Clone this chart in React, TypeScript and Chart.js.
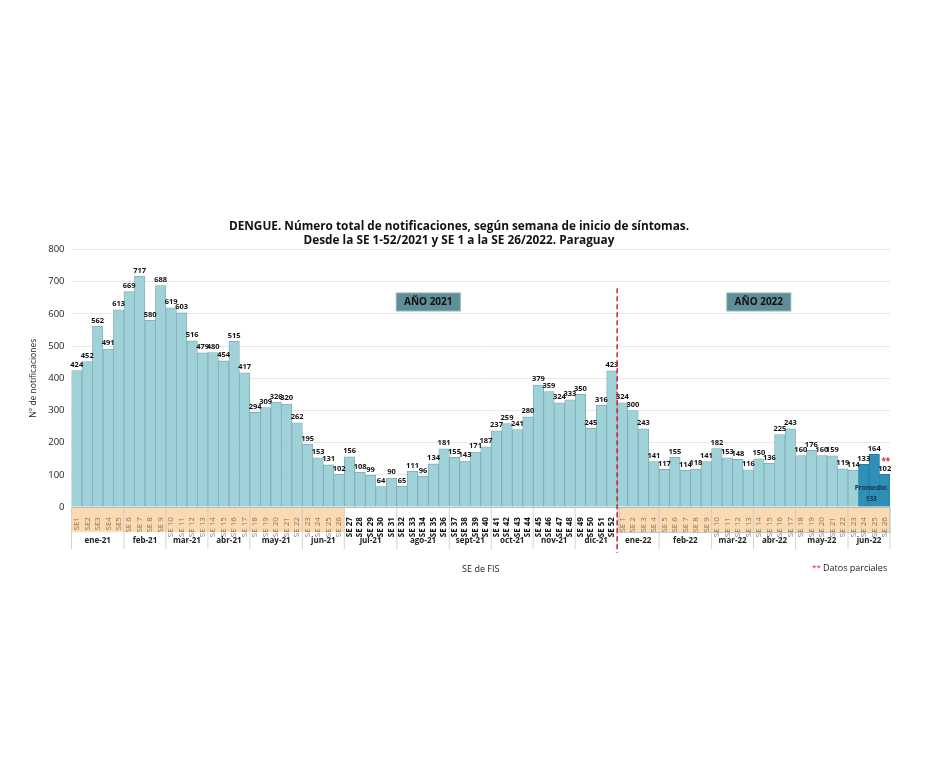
import { useEffect, useRef } from 'react';
import Chart from 'chart.js/auto';

const weekLabels = [
  'SE1', 'SE2', 'SE3', 'SE4', 'SE5', 'SE 6', 'SE 7', 'SE 8', 'SE 9', 'SE 10',
  'SE 11', 'SE 12', 'SE 13', 'SE 14', 'SE 15', 'SE 16', 'SE 17', 'SE 18', 'SE 19', 'SE 20',
  'SE 21', 'SE 22', 'SE 23', 'SE 24', 'SE 25', 'SE 26', 'SE 27', 'SE 28', 'SE 29', 'SE 30',
  'SE 31', 'SE 32', 'SE 33', 'SE 34', 'SE 35', 'SE 36', 'SE 37', 'SE 38', 'SE 39', 'SE 40',
  'SE 41', 'SE 42', 'SE 43', 'SE 44', 'SE 45', 'SE 46', 'SE 47', 'SE 48', 'SE 49', 'SE 50',
  'SE 51', 'SE 52',
  'SE 1', 'SE 2', 'SE 3', 'SE 4', 'SE 5', 'SE 6', 'SE 7', 'SE 8', 'SE 9', 'SE 10',
  'SE 11', 'SE 12', 'SE 13', 'SE 14', 'SE 15', 'SE 16', 'SE 17', 'SE 18', 'SE 19', 'SE 20',
  'SE 21', 'SE 22', 'SE 23', 'SE 24', 'SE 25', 'SE 26',
];

const values2021 = [
  424, 452, 562, 491, 613, 669, 717, 580, 688, 619,
  603, 516, 479, 480, 454, 515, 417, 294, 309, 326,
  320, 262, 195, 153, 131, 102, 156, 108, 99, 64,
  90, 65, 111, 96, 134, 181, 155, 143, 171, 187,
  237, 259, 241, 280, 379, 359, 324, 333, 350, 245,
  316, 423,
];

const values2022 = [
  324, 300, 243, 141, 117, 155, 114, 118, 141, 182,
  153, 148, 116, 150, 136, 225, 243, 160, 176, 160,
  159, 119, 114, 133, 164, 102,
];

const monthNames = [
  'ene-21', 'feb-21', 'mar-21', 'abr-21', 'may-21', 'jun-21',
  'jul-21', 'ago-21', 'sept-21', 'oct-21', 'nov-21', 'dic-21',
  'ene-22', 'feb-22', 'mar-22', 'abr-22', 'may-22', 'jun-22',
];
const monthWeeks = [5, 4, 4, 4, 5, 4, 5, 5, 4, 4, 4, 4, 4, 5, 4, 4, 5, 4];

const yTicks = [0, 100, 200, 300, 400, 500, 600, 700, 800];
const averageLast = 133;

const allValues = [...values2021, ...values2022];
const FONT = '"Open Sans", "Noto Sans", sans-serif';
const LIGHT = '#9ed1d8';
const DARK = '#2e8fb8';
const ORANGE = '#fbd9b1';

// orange band = SE 1-26 of each year
const isOrange = (i: number) => i < 26 || i >= 52;

const overlay = {
  id: 'overlay',
  beforeDraw(chart: any) {
    const { ctx, chartArea } = chart;
    const x = chart.scales.x;
    const half = (x.getPixelForValue(1) - x.getPixelForValue(0)) / 2;
    const top = chartArea.bottom;
    ctx.save();
    ctx.fillStyle = ORANGE;
    ctx.fillRect(x.getPixelForValue(0) - half, top, half * 2 * 26, 25);
    ctx.fillRect(x.getPixelForValue(52) - half, top, half * 2 * 26, 25);
    ctx.strokeStyle = '#b9c9cc';
    ctx.lineWidth = 1;
    ctx.strokeRect(x.getPixelForValue(52) - half + 2, top + 0.5, half * 2 * 26 - 2, 25);
    ctx.restore();
  },
  afterDraw(chart: any) {
    const { ctx, chartArea } = chart;
    const x = chart.scales.x;
    const y = chart.scales.y;
    const half = (x.getPixelForValue(1) - x.getPixelForValue(0)) / 2;
    const meta = chart.getDatasetMeta(0);
    ctx.save();

    // value labels
    ctx.fillStyle = '#111';
    ctx.font = `bold 7.5px ${FONT}`;
    ctx.textAlign = 'center';
    ctx.textBaseline = 'bottom';
    meta.data.forEach((bar: any, i: number) => {
      ctx.fillText(String(allValues[i]), bar.x, bar.y - 2);
    });

    // month row
    const bandTop = chartArea.bottom;
    const rowTop = bandTop + 25;
    const rowBottom = rowTop + 17;
    let start = 0;
    ctx.strokeStyle = '#c8c8c8';
    ctx.lineWidth = 0.8;
    ctx.font = `bold 8px ${FONT}`;
    ctx.textBaseline = 'middle';
    monthNames.forEach((name, m) => {
      const end = start + monthWeeks[m];
      const left = x.getPixelForValue(start) - half;
      const right = x.getPixelForValue(end - 1) + half;
      ctx.fillStyle = '#222';
      ctx.fillText(name, (left + right) / 2, rowTop + 9);
      ctx.beginPath();
      ctx.moveTo(right, bandTop);
      ctx.lineTo(right, rowBottom);
      ctx.stroke();
      start = end;
    });
    ctx.beginPath();
    ctx.moveTo(chartArea.left, bandTop);
    ctx.lineTo(chartArea.left, rowBottom);
    ctx.stroke();

    // dashed separator between years
    const sepX = (x.getPixelForValue(51) + x.getPixelForValue(52)) / 2;
    ctx.strokeStyle = '#c62828';
    ctx.lineWidth = 1.5;
    ctx.setLineDash([5, 3]);
    ctx.beginPath();
    ctx.moveTo(sepX, y.getPixelForValue(680));
    ctx.lineTo(sepX, rowBottom + 4);
    ctx.stroke();
    ctx.setLineDash([]);

    // year boxes
    const box = (label: string, cx: number) => {
      const cy = y.getPixelForValue(637);
      ctx.fillStyle = '#5e8e97';
      ctx.fillRect(cx - 32, cy - 9, 64, 18);
      ctx.strokeStyle = '#8fb3b9';
      ctx.lineWidth = 1;
      ctx.strokeRect(cx - 32, cy - 9, 64, 18);
      ctx.fillStyle = '#111';
      ctx.font = `bold 10px ${FONT}`;
      ctx.textBaseline = 'middle';
      ctx.fillText(label, cx, cy + 0.5);
    };
    box('AÑO 2021', (x.getPixelForValue(33) + x.getPixelForValue(34)) / 2);
    box('AÑO 2022', x.getPixelForValue(65));

    // average note inside last bars
    const avgX = x.getPixelForValue(76) - 3;
    ctx.fillStyle = '#10324a';
    ctx.font = `bold 6.5px ${FONT}`;
    ctx.fillText('Promedio:', avgX, y.getPixelForValue(58));
    ctx.fillText(String(averageLast), avgX, y.getPixelForValue(24));

    // partial data marks
    const last = meta.data[77];
    ctx.fillStyle = '#e02020';
    ctx.font = `bold 8px ${FONT}`;
    ctx.textBaseline = 'bottom';
    ctx.fillText('**', last.x + 1, last.y - 9);

    ctx.textAlign = 'left';
    ctx.textBaseline = 'middle';
    const noteY = rowBottom + 19;
    ctx.fillStyle = '#e02020';
    ctx.font = `8px ${FONT}`;
    ctx.fillText('**', 804, noteY);
    ctx.fillStyle = '#222';
    ctx.font = `9px ${FONT}`;
    ctx.fillText('Datos parciales', 815, noteY);

    ctx.restore();
  },
};

export default function App() {
  const canvasRef = useRef<HTMLCanvasElement | null>(null);
  const chartRef = useRef<Chart | null>(null);

  useEffect(() => {
    if (!canvasRef.current) return;
    const ctx = canvasRef.current.getContext('2d');
    if (!ctx) return;

    chartRef.current = new Chart(ctx, {
      type: 'bar',
      data: {
        labels: weekLabels,
        datasets: [
          {
            data: allValues,
            backgroundColor: allValues.map((_, i) => (i >= 75 ? DARK : LIGHT)),
            borderColor: allValues.map((_, i) => (i >= 75 ? '#277aa0' : '#7fa9b0')),
            borderWidth: 0.8,
            categoryPercentage: 1,
            barPercentage: 1,
          },
        ],
      },
      options: {
        animation: false,
        responsive: true,
        maintainAspectRatio: false,
        layout: { padding: { top: 211, left: 20, right: 31, bottom: 198 } },
        plugins: {
          legend: { display: false },
          tooltip: { enabled: false },
          title: {
            display: true,
            text: [
              'DENGUE. Número total de notificaciones, según semana de inicio de síntomas.',
              'Desde la SE 1-52/2021 y SE 1 a la SE 26/2022. Paraguay',
            ],
            color: '#111',
            font: { family: FONT, size: 11.8, weight: 'bold', lineHeight: 1.25 },
            padding: { top: 0, bottom: 1 },
          },
        },
        scales: {
          x: {
            grid: { display: false },
            border: { color: '#bbb' },
            ticks: {
              autoSkip: false,
              minRotation: 90,
              maxRotation: 90,
              padding: 2,
              color: (c: any) => (isOrange(c.index) ? '#8a7458' : '#111'),
              font: (c: any) => ({
                family: FONT,
                size: 8,
                weight: isOrange(c.index) ? 'normal' : 'bold',
              }),
            },
            title: {
              display: true,
              text: 'SE de FIS',
              color: '#222',
              font: { family: FONT, size: 9 },
              padding: { top: 25, bottom: 0 },
            },
          },
          y: {
            min: 0,
            max: 800,
            afterBuildTicks: (scale: any) => {
              scale.ticks = yTicks.map((v) => ({ value: v }));
            },
            grid: { color: '#e8e8e8', drawTicks: false },
            border: { display: false },
            ticks: {
              padding: 7,
              color: '#222',
              font: { family: FONT, size: 9.5 },
            },
            title: {
              display: true,
              text: 'N° de notificaciones',
              color: '#222',
              font: { family: FONT, size: 8.5 },
              padding: { top: 0, bottom: 3 },
            },
          },
        },
      },
      plugins: [overlay],
    });

    return () => {
      chartRef.current?.destroy();
    };
  }, []);

  return (
    <div style={{ width: 913, height: 765, position: 'relative' }}>
      <canvas ref={canvasRef}></canvas>
    </div>
  );
}
